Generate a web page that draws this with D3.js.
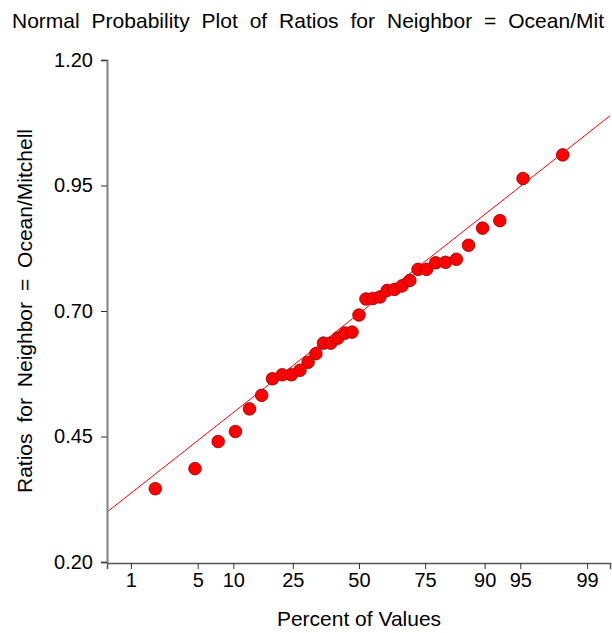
<!DOCTYPE html>
<html>
<head>
<meta charset="utf-8">
<script src="https://cdn.jsdelivr.net/npm/d3@7"></script>
<style>
  body { margin: 0; background: #fff; }
  text { font-family: Arial, "Liberation Sans", sans-serif; fill: #000; }
</style>
</head>
<body>
<div id="chart"></div>
<script>
// sorted ratios (35 values)
var ratios = [0.346, 0.386, 0.440, 0.460, 0.505, 0.532, 0.565, 0.573, 0.573, 0.582,
              0.598, 0.615, 0.636, 0.636, 0.646, 0.656, 0.658, 0.692, 0.724, 0.725,
              0.728, 0.741, 0.743, 0.750, 0.761, 0.783, 0.783, 0.796, 0.797, 0.803,
              0.831, 0.865, 0.880, 0.964, 1.011];
var percentTicks = [1, 5, 10, 25, 50, 75, 90, 95, 99];
var yTicks = [0.20, 0.45, 0.70, 0.95, 1.20];
// reference line: value = lineCenter + lineSlope * z
var lineCenter = 0.695;
var lineSlope = 0.1539;

var width = 612, height = 633;
var margin = { top: 60, right: 2, bottom: 71, left: 107 };

// inverse normal cdf (Acklam)
function probit(p) {
    var a = [-39.6968302866538, 220.946098424521, -275.928510446969, 138.357751867269, -30.6647980661472, 2.50662827745924];
    var b = [-54.4760987982241, 161.585836858041, -155.698979859887, 66.8013118877197, -13.2806815528857];
    var c = [-0.00778489400243029, -0.322396458041136, -2.40075827716184, -2.54973253934373, 4.37466414146497, 2.93816398269878];
    var d = [0.00778469570904146, 0.32246712907004, 2.445134137143, 3.75440866190742];
    var q, r;
    if (p < 0.02425) {
        q = Math.sqrt(-2 * Math.log(p));
        return (((((c[0]*q+c[1])*q+c[2])*q+c[3])*q+c[4])*q+c[5]) / ((((d[0]*q+d[1])*q+d[2])*q+d[3])*q+1);
    } else if (p > 1 - 0.02425) {
        q = Math.sqrt(-2 * Math.log(1 - p));
        return -(((((c[0]*q+c[1])*q+c[2])*q+c[3])*q+c[4])*q+c[5]) / ((((d[0]*q+d[1])*q+d[2])*q+d[3])*q+1);
    }
    q = p - 0.5; r = q * q;
    return (((((a[0]*r+a[1])*r+a[2])*r+a[3])*r+a[4])*r+a[5])*q / (((((b[0]*r+b[1])*r+b[2])*r+b[3])*r+b[4])*r+1);
}

var n = ratios.length;
var points = ratios.map(function(v, i) {
    return { z: probit((i + 1 - 1/3) / (n + 1/3)), v: v };
});

var svg = d3.select("#chart").append("svg")
    .attr("width", width)
    .attr("height", height);

var plotW = width - margin.left - margin.right;
var plotH = height - margin.top - margin.bottom;

var xScale = d3.scaleLinear().domain([-2.57, 2.56]).range([0, plotW]);
var yScale = d3.scaleLinear().domain([0.20, 1.20]).range([plotH, 0]);

var g = svg.append("g")
    .attr("transform", "translate(" + margin.left + "," + margin.top + ")");

g.append("clipPath").attr("id", "clip")
    .append("rect").attr("width", plotW).attr("height", plotH);

// reference line
var z0 = xScale.domain()[0], z1 = xScale.domain()[1];
g.append("line")
    .attr("clip-path", "url(#clip)")
    .attr("x1", xScale(z0)).attr("y1", yScale(lineCenter + lineSlope * z0))
    .attr("x2", xScale(z1)).attr("y2", yScale(lineCenter + lineSlope * z1))
    .attr("stroke", "#ff0000")
    .attr("stroke-width", 1);

// points
g.selectAll("circle")
    .data(points)
    .enter()
    .append("circle")
    .attr("cx", function(d) { return xScale(d.z); })
    .attr("cy", function(d) { return yScale(d.v); })
    .attr("r", 6.3)
    .attr("fill", "#ff0000")
    .attr("stroke", "#8b0000")
    .attr("stroke-width", 0.8);

// y axis
var yAxis = g.append("g")
    .call(d3.axisLeft(yScale).tickValues(yTicks).tickFormat(d3.format(".2f")).tickSize(6).tickPadding(8));
yAxis.select(".domain").attr("stroke", "#808080").attr("stroke-width", 2);
yAxis.selectAll(".tick line").attr("stroke", "#333");
yAxis.selectAll(".tick text").style("font-size", "20px");

// x axis
var xAxis = g.append("g")
    .attr("transform", "translate(0," + (plotH + 1) + ")")
    .call(d3.axisBottom(xScale)
        .tickValues(percentTicks.map(function(p) { return probit(p / 100); }))
        .tickFormat(function(d, i) { return percentTicks[i]; })
        .tickSize(6).tickPadding(4));
xAxis.select(".domain").attr("stroke", "#555").attr("stroke-width", 1.5);
xAxis.selectAll(".tick line").attr("stroke", "#333");
xAxis.selectAll(".tick text").style("font-size", "20px");

// spread words to fit a target width
function fitWords(sel, target) {
    var len = sel.node().getComputedTextLength();
    var spaces = sel.text().split(" ").length - 1;
    if (spaces > 0 && len < target) sel.style("word-spacing", ((target - len) / spaces) + "px");
    else if (len > target) sel.attr("textLength", target).attr("lengthAdjust", "spacingAndGlyphs");
}

// titles
var title = svg.append("text")
    .attr("x", 12).attr("y", 28)
    .style("font-size", "21px")
    .text("Normal Probability Plot of Ratios for Neighbor = Ocean/Mit");
fitWords(title, 592);

svg.append("text")
    .attr("x", margin.left + xScale(0)).attr("y", 626)
    .attr("text-anchor", "middle")
    .style("font-size", "21px")
    .text("Percent of Values");

var yLabel = svg.append("text")
    .attr("transform", "translate(32,311) rotate(-90)")
    .attr("text-anchor", "middle")
    .style("font-size", "21px")
    .text("Ratios for Neighbor = Ocean/Mitchell");
fitWords(yLabel, 364);
</script>
</body>
</html>
